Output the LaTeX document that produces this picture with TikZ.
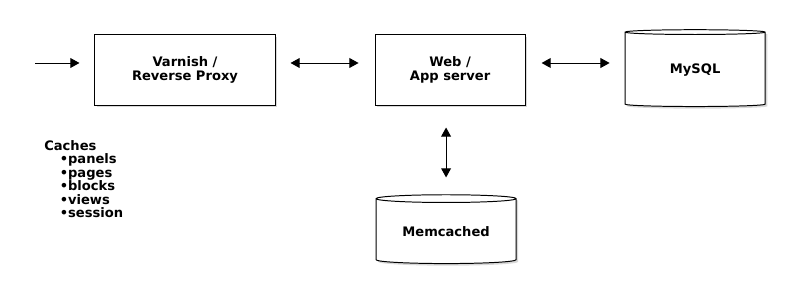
\documentclass[tikz,border=0pt]{standalone}
\usepackage{fontspec}
\setmainfont{DejaVu Sans}
\usetikzlibrary{arrows.meta, positioning, shapes.geometric, shadows}

\tikzset{
    server/.style={draw, fill=white, line width=0.7pt, rectangle, align=center,
        font=\bfseries\fontsize{9.3}{9.8}\selectfont,
        drop shadow={shadow xshift=1.5pt, shadow yshift=-1.5pt, opacity=0.3}},
    store/.style={server, cylinder, shape border rotate=90, aspect=0.08},
    link/.style={line width=0.7pt, {Triangle[length=6.5pt, width=7pt]}-{Triangle[length=6.5pt, width=7pt]}},
}

\begin{document}
\begin{tikzpicture}[x=0.025cm, y=0.025cm, on grid]
    \useasboundingbox[fill=white] (0,0) rectangle (790,294);

    \node[server, minimum width=4.5cm, minimum height=1.75cm] (varnish) at (185,224) {Varnish /\\Reverse Proxy};
    \node[server, minimum width=3.75cm, minimum height=1.75cm] (web) [right=6.625cm of varnish] {Web /\\App server};
    \node[store, minimum width=3.5cm, minimum height=1.92cm] (mysql) [right=6.125cm of web] {MySQL};
    \node[store, minimum width=3.5cm, minimum height=1.72cm] (memcached) [below=4.05cm of web, xshift=-0.1cm] {Memcached};

    \coordinate (in) at (35,231);

    % connectors
    \draw[line width=0.7pt, -{Triangle[length=6.5pt, width=7pt]}] (in) -- (in -| varnish.west) [shorten >=0.375cm];
    \draw[link, shorten <=0.375cm, shorten >=0.4cm] (varnish.east |- in) -- (web.west |- in);
    \draw[link, shorten <=0.4cm, shorten >=0.375cm] (web.east |- in) -- (mysql.west |- in);
    \draw[link, shorten <=0.55cm, shorten >=0.42cm] (memcached.north |- web.south) -- (memcached.north);

    % what varnish keeps
    \node[anchor=north west, align=left, font=\bfseries\fontsize{9.3}{9.6}\selectfont, inner sep=0pt] (caches) at (44,154)
        {Caches\\\hspace{11pt}•panels\\\hspace{11pt}•pages\\\hspace{11pt}•blocks\\\hspace{11pt}•views\\\hspace{11pt}•session};
\end{tikzpicture}
\end{document}
